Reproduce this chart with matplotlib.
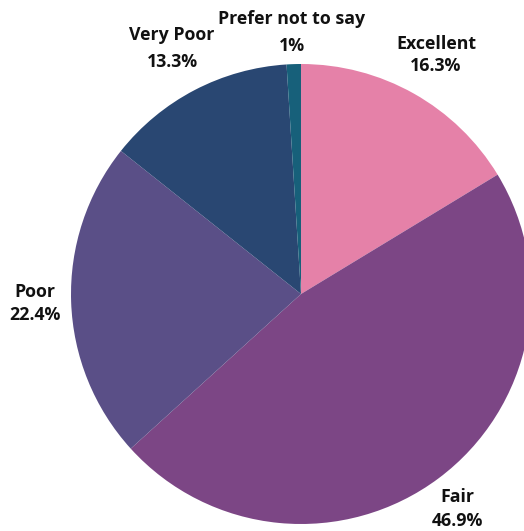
import matplotlib
matplotlib.use("Agg")
import matplotlib.pyplot as plt

categories = ["Excellent", "Fair", "Poor", "Very Poor", "Prefer not to say"]
shares = [16.3, 46.9, 22.4, 13.3, 1.0]
pct_labels = ["16.3%", "46.9%", "22.4%", "13.3%", "1%"]
colors = ["#E581A8", "#7C4685", "#5A4F87", "#294772", "#17607A"]

W, H = 524, 531
fig = plt.figure(figsize=(W / 100, H / 100), dpi=100)
ax = fig.add_axes([0, 0, 1, 1])

cx, cy, r = 301, H - 294, 230
ax.pie(shares, colors=colors, startangle=90, counterclock=False,
       center=(cx, cy), radius=r, frame=True,
       wedgeprops=dict(linewidth=0))
ax.set_xlim(0, W)
ax.set_ylim(0, H)
ax.set_aspect("equal")
ax.axis("off")

# label anchors: x, name line y, percent line y (pixels from top-left)
label_pos = {
    "Excellent": (436, 44, 66),
    "Fair": (457, 497, 521),
    "Poor": (35, 292, 315),
    "Very Poor": (172, 35, 62),
    "Prefer not to say": (292, 19, 46),
}
style = dict(ha="center", va="center", fontsize=12.8, fontweight="bold",
             family=["Open Sans", "DejaVu Sans"], color="#111111")
for cat, pct in zip(categories, pct_labels):
    x, y1, y2 = label_pos[cat]
    ax.text(x, H - y1, cat, **style)
    ax.text(x, H - y2, pct, **style)

fig.savefig("out.png", dpi=100)
